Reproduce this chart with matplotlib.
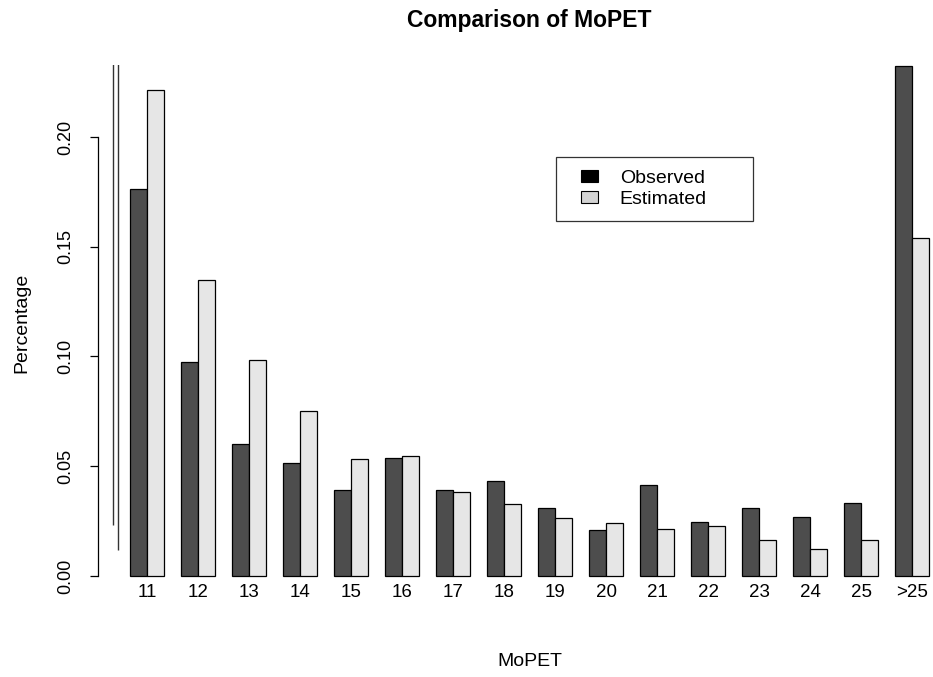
import numpy as np
import matplotlib
matplotlib.use('Agg')
import matplotlib.pyplot as plt
import matplotlib.patches as mpatches
from matplotlib.legend_handler import HandlerPatch

plt.rcParams['font.family'] = ['Liberation Sans', 'DejaVu Sans']

# share of runs per MoPET value
categories = ['11', '12', '13', '14', '15', '16', '17', '18',
              '19', '20', '21', '22', '23', '24', '25', '>25']
observed = [0.1762, 0.0975, 0.0601, 0.0517, 0.0392, 0.0539, 0.0392, 0.0434,
            0.0311, 0.0210, 0.0415, 0.0248, 0.0311, 0.0270, 0.0331, 0.2322]
estimated = [0.2216, 0.1347, 0.0983, 0.0750, 0.0532, 0.0548, 0.0384, 0.0327,
             0.0264, 0.0240, 0.0214, 0.0229, 0.0164, 0.0123, 0.0164, 0.1541]

# stray reference lines on the left edge (x position, lower end)
ref_x = [0.02, 0.28]
ref_low = [0.0231, 0.0117]

fig = plt.figure(figsize=(9.33, 6.77), dpi=100)
W, H = 933, 677

# plot region in pixels: x 98..961, y 65..596
ylim = (-0.0093, 0.2328)
xlim = (-0.88, 49.88)
ax = fig.add_axes([98 / W, 1 - 596.4 / H, (961 - 98) / W, (596.4 - 65) / H])
ax.set_xlim(*xlim)
ax.set_ylim(*ylim)

# barplot layout: groups of two unit-width bars with one unit gap before each group
n = len(categories)
left = 1 + 3 * np.arange(n)
ax.bar(left, observed, width=1, align='edge', color='#4D4D4D',
       edgecolor='black', linewidth=0.9)
ax.bar(left + 1, estimated, width=1, align='edge', color='#E6E6E6',
       edgecolor='black', linewidth=0.9)

ax.vlines(ref_x, ref_low, 0.3, color='#333333', linewidth=1.0)

# category labels under the groups
for x, lab in zip(left + 1, categories):
    ax.text(x, -0.0073, lab, ha='center', va='center', fontsize=13.5)

for s in ['top', 'right', 'bottom']:
    ax.spines[s].set_visible(False)
ax.spines['left'].set_bounds(0, 0.20)
ax.spines['left'].set_linewidth(0.9)
ax.set_xticks([])
ax.set_yticks([0.0, 0.05, 0.10, 0.15, 0.20])
ax.set_yticklabels(['0.00', '0.05', '0.10', '0.15', '0.20'])
ax.tick_params(axis='y', length=6, width=0.9, pad=11, labelsize=13,
               labelrotation=90)
for t in ax.get_yticklabels():
    t.set_va('center')

fig.text(529.5 / W, 1 - 21 / H, 'Comparison of MoPET', ha='center',
         va='center', fontsize=16.5, fontweight='bold')
fig.text(22 / W, 1 - 323 / H, 'Percentage', rotation=90, ha='center',
         va='center', fontsize=14)
fig.text(529.5 / W, 1 - 662 / H, 'MoPET', ha='center', va='center',
         fontsize=14)


# legend keys sit a little inside the frame, like R's legend()
def key_patch(legend, orig_handle, xdescent, ydescent, width, height, fontsize):
    return mpatches.Rectangle((-xdescent + 0.41 * width, -ydescent),
                              0.59 * width, height)


handles = [mpatches.Rectangle((0, 0), 1, 1, facecolor='black',
                              edgecolor='black', linewidth=0.8),
           mpatches.Rectangle((0, 0), 1, 1, facecolor='#D3D3D3',
                              edgecolor='black', linewidth=0.8)]
leg = fig.legend(handles, ['Observed', 'Estimated'], loc='upper left',
                 bbox_to_anchor=(556 / W, 1 - 157 / H, 197 / W, 0),
                 bbox_transform=fig.transFigure, mode='expand',
                 fontsize=14, frameon=True, fancybox=False, borderpad=0.65,
                 labelspacing=0.22, handlelength=1.5, handleheight=0.55,
                 handletextpad=1.13, borderaxespad=0,
                 handler_map={mpatches.Rectangle: HandlerPatch(patch_func=key_patch)})
leg.get_frame().set_edgecolor('black')
leg.get_frame().set_linewidth(0.9)

fig.savefig('out.png', dpi=100)
